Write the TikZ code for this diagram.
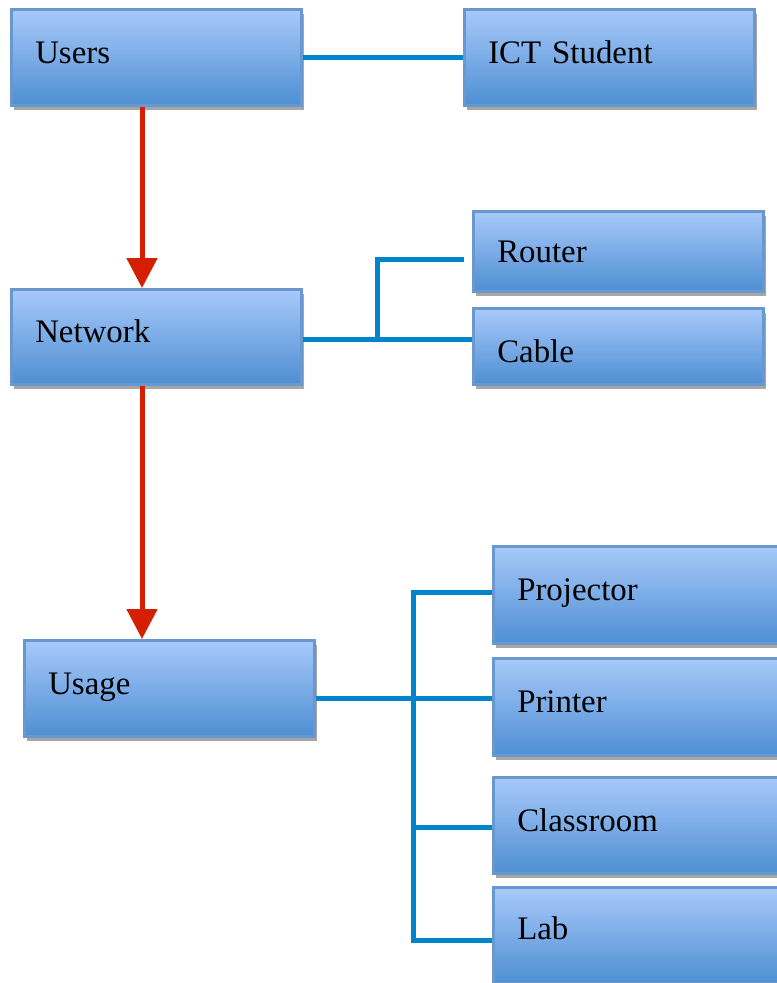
\documentclass[tikz,border=0pt]{standalone}
\usepackage{fontspec}
\setmainfont{Liberation Serif}
\usetikzlibrary{arrows.meta}
\usetikzlibrary{calc}
\usetikzlibrary{shadows}
\usepackage{xcolor}
\definecolor{boxtop}{RGB}{168,201,250}
\definecolor{boxbot}{RGB}{78,143,211}
\definecolor{boxline}{RGB}{104,152,206}
\definecolor{linkblue}{RGB}{0,132,204}
\definecolor{flowred}{RGB}{212,32,0}

\begin{document}
\begin{tikzpicture}[x=1bp,y=-1bp,
    block/.style={rectangle, draw=boxline, line width=2.5bp,
      top color=boxtop, bottom color=boxbot, anchor=north west,
      minimum height=96bp, text width=242bp, inner xsep=24bp, align=left,
      text height=22bp, text depth=10bp,
      font=\fontsize{33}{38}\selectfont,
      drop shadow={shadow xshift=3bp, shadow yshift=-5bp, opacity=0.35, fill=black}},
    link/.style={linkblue, line width=5bp},
    flow/.style={flowred, line width=5bp, -{Triangle[length=30bp,width=30bp]}}]

      \useasboundingbox (0,0) rectangle (777,983);
      \clip (0,0) rectangle (777,983);

      % Boxes
      \node[block] (Users) at (10,8) {Users};
      \node[block] (ICT) at (463,8) {ICT Student};
      \node[block, minimum height=80bp, text depth=0bp] (Router) at (472,210) {Router};
      \node[block, minimum height=76bp, text height=32bp, text depth=0bp] (Cable) at (472,307) {Cable};
      \node[block, minimum height=95bp] (Network) at (10,288) {Network};
      \node[block] (Usage) at (23,639) {Usage};
      \node[block, minimum height=97bp] (Projector) at (492,545) {Projector};
      \node[block, minimum height=97bp] (Printer) at (492,657) {Printer};
      \node[block] (Classroom) at (492,776) {Classroom};
      \node[block, text depth=14bp] (Lab) at (492,886) {Lab};

      % Red flow
      \coordinate (spine) at (142,0);
      \draw[flow] (Users.south -| spine) -- (Network.north -| spine);
      \draw[flow] (Network.south -| spine) -- (Usage.north -| spine);

      % Users
      \draw[link] (Users.east) -- (ICT.west);

      % Network
      \coordinate (nj) at (377,339);
      \coordinate (rt) at (464,259);
      \draw[link] (Network.east |- nj) -- (Cable.west |- nj);
      \draw[link] (nj) |- (rt);

      % Usage
      \coordinate (ut) at (413,592);
      \coordinate (um) at (413,698);
      \coordinate (uc) at (413,827);
      \coordinate (ub) at (413,940);
      \draw[link] (Projector.west |- ut) -- (ut) -- (ub) -- (Lab.west |- ub);
      \draw[link] (Usage.east |- um) -- (Printer.west |- um);
      \draw[link] (uc) -- (Classroom.west |- uc);

\end{tikzpicture}
\end{document}
